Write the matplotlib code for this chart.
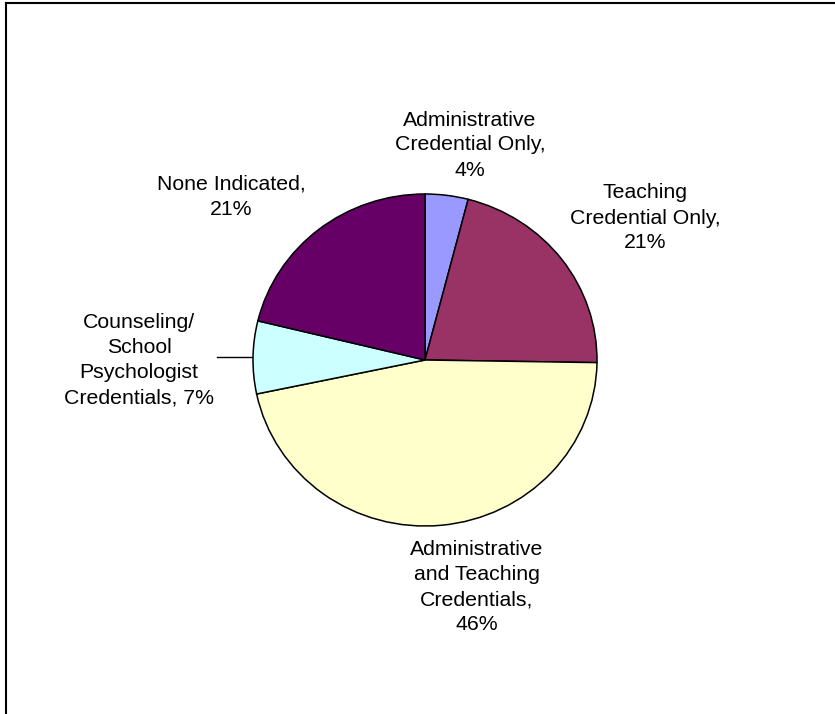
import numpy as np
import matplotlib.pyplot as plt
from matplotlib.lines import Line2D

# credential categories and their shares (%)
labels = ["Administrative\nCredential Only,\n4%",
          "Teaching\nCredential Only,\n21%",
          "Administrative\nand Teaching\nCredentials,\n46%",
          "Counseling/\nSchool\nPsychologist\nCredentials, 7%",
          "None Indicated,\n21%"]
shares = [4, 21, 46, 7, 21]
colors = ["#9999FF", "#993366", "#FFFFCC", "#CCFFFF", "#660066"]

# label centres in pixel space (x right, y down)
label_pos = [(470, 145), (645, 218), (477, 587), (139, 360), (231, 197)]

W, H = 835, 714
fig = plt.figure(figsize=(W / 100, H / 100), dpi=100)

# overlay axes in pixel units for labels and leader line
ax = fig.add_axes([0, 0, 1, 1])
ax.set_xlim(0, W)
ax.set_ylim(H, 0)
ax.axis("off")

# pie gets its own axes, slightly squashed vertically
left, right, top, bottom = 253, 597, 194, 526
pax = fig.add_axes([left / W, 1 - bottom / H, (right - left) / W, (bottom - top) / H])
wedges, _ = pax.pie(shares, colors=colors, startangle=90, counterclock=False,
                    radius=1, wedgeprops=dict(edgecolor="black", linewidth=1.1))
pax.set_aspect("auto")
pax.set_xlim(-1, 1)
pax.set_ylim(-1, 1)
pax.axis("off")

for text, (x, y) in zip(labels, label_pos):
    ax.text(x, y, text, ha="center", va="center", multialignment="center",
            fontsize=15.3, family="Liberation Sans", linespacing=1.4)

# leader line for the small counseling slice, ending on the wedge rim
w = wedges[3]
mid = np.deg2rad((w.theta1 + w.theta2) / 2)
px, py = pax.transData.transform((np.cos(mid), np.sin(mid)))
ex, ey = ax.transData.inverted().transform((px, py))
ax.plot([217, ex], [ey, ey], color="black", lw=1)

# chart area frame (left and top edges visible)
fig.add_artist(Line2D([5.5 / W, 5.5 / W], [0, 1 - 3 / H], color="black", lw=1.5,
                      transform=fig.transFigure))
fig.add_artist(Line2D([5.5 / W, 1], [1 - 3 / H, 1 - 3 / H], color="black", lw=1.5,
                      transform=fig.transFigure))

fig.savefig("out.png", dpi=100)
